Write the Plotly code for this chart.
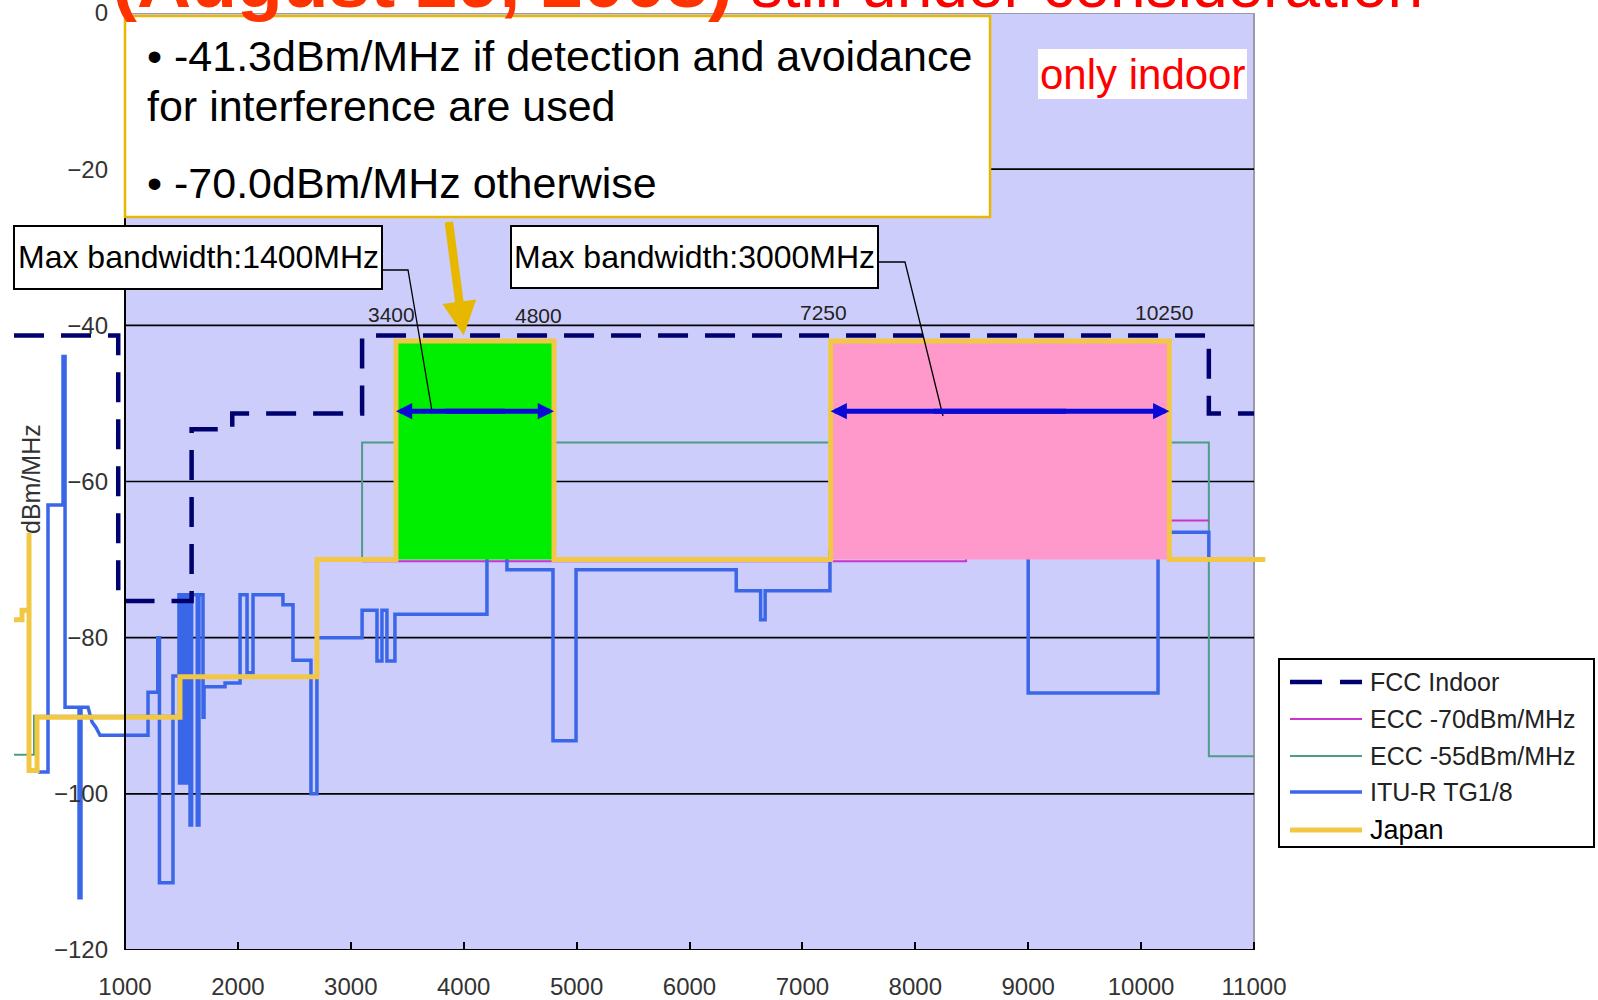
import plotly.graph_objects as go

# ---------------- data ----------------
FREQ_TICKS = [1000, 2000, 3000, 4000, 5000, 6000, 7000, 8000, 9000, 10000, 11000]
FREQ_TICK_LABELS = ["1000", "2000", "3000", "4000", "5000", "6000", "7000", "8000", "9000", "10000", "11000"]
LEVEL_TICKS = [0, -20, -40, -60, -80, -100, -120]
LEVEL_TICK_LABELS = ["0", "\u221220", "\u221240", "\u221260", "\u221280", "\u2212100", "\u2212120"]
GRID_LEVELS = [-20, -40, -60, -80, -100]
FREQ_MIN, FREQ_MAX = 1000, 11000
LEVEL_MIN, LEVEL_MAX = -120, 0

SERIES_NAMES = ["FCC Indoor", "ECC -70dBm/MHz", "ECC -55dBm/MHz", "ITU-R TG1/8", "Japan"]

FCC_FREQ = [17, 940, 940, 1590, 1590, 1950, 1950, 3100, 3100, 10600, 10600, 11000]
FCC_LEVEL = [-41.3, -41.3, -75.3, -75.3, -53.3, -53.3, -51.3, -51.3, -41.3, -41.3, -51.3, -51.3]

ECC70_FREQ = [3100, 8450, 8450, 10600]
ECC70_LEVEL = [-70.2, -70.2, -65, -65]

ECC55_FREQ = [17, 194, 194, 1487, 1487, 2700, 2700, 3100, 3100, 10600, 10600, 11000]
ECC55_LEVEL = [-95, -95, -90, -90, -85, -85, -70, -70, -55, -55, -95.2, -95.2]

ITU_FREQ = [229, 318, 318, 451, 451, 469, 469, 593, 593, 610, 610, 672, 708, 743, 779,
            1204, 1204, 1290, 1290, 1305, 1305, 1425, 1425, 1478, 1478, 1483, 1483, 1492, 1492,
            1500, 1500, 1510, 1510, 1520, 1520, 1530, 1530, 1540, 1540, 1556, 1556, 1576, 1576,
            1590, 1590, 1640, 1640, 1655, 1655, 1691, 1691, 1700, 1700, 1886, 1886, 2019, 2019,
            2081, 2081, 2134, 2134, 2399, 2399, 2488, 2488, 2647, 2647, 2700, 2700, 3100, 3100,
            3232, 3232, 3276, 3276, 3320, 3320, 3391, 3391, 4206, 4206, 4383, 4383, 4791, 4791,
            4995, 4995, 6414, 6414, 6630, 6630, 6670, 6670, 7244, 7244, 9000, 9000, 10150, 10150,
            10200, 10200, 10600, 10600]
ITU_LEVEL = [-97.2, -97.2, -63, -63, -44, -44, -88.9, -88.9, -113.3, -113.3, -88.9, -88.9, -90.8, -91.5, -92.5,
             -92.5, -87, -87, -80, -80, -111.4, -111.4, -84.9, -84.9, -74.5, -74.5, -98.6, -98.6, -74.5,
             -74.5, -98.6, -98.6, -74.5, -74.5, -98.6, -98.6, -74.5, -74.5, -98.6, -98.6, -74.5, -74.5, -104,
             -104, -74.5, -74.5, -104, -104, -74.5, -74.5, -90.2, -90.2, -86.3, -86.3, -85.8, -85.8, -74.5,
             -74.5, -84.5, -84.5, -74.5, -74.5, -75.8, -75.8, -82.9, -82.9, -100, -100, -80, -80, -76.5,
             -76.5, -83, -83, -76.5, -76.5, -83, -83, -77, -77, -69, -69, -71.3, -71.3, -93.2,
             -93.2, -71.3, -71.3, -74, -74, -77.7, -77.7, -74, -74, -69, -69, -87.1, -87.1, -69,
             -69, -66.5, -66.5, -70]

JAPAN_FREQ = [17, 88, 88, 150, 150, 150, 221, 221, 1487, 1487, 2700, 2700, 3400, 3400, 4800, 4800,
              7250, 7250, 10250, 10250, 11100]
JAPAN_LEVEL = [-77.7, -77.7, -76.5, -76.5, -66.6, -97, -97, -90.2, -90.2, -85, -85, -70, -70, -42, -42, -70,
               -70, -42, -42, -70, -70]

BAND_LOW = [3400, 7250]
BAND_HIGH = [4800, 10250]
BAND_TOP = -42
BAND_BOTTOM = -70
BAND_ARROW_LEVEL = -51
BAND_EDGE_LABELS = ["3400", "4800", "7250", "10250"]
BAND_WIDTH_TEXT = ["Max bandwidth:1400MHz", "Max bandwidth:3000MHz"]
DAA_FREQ, DAA_LEVEL = 4000, -41.3

NOTE_LINES = ["\u2022 -41.3dBm/MHz if detection and avoidance", "for interference are used",
              "\u2022 -70.0dBm/MHz otherwise"]
TITLE_BOLD = "(August 29, 2008)"
TITLE_REST = " still under consideration"
INDOOR_TEXT = "only indoor"
Y_TITLE = "dBm/MHz"

# ---------------- styles / layout geometry (pixels) ----------------
W, H = 1598, 1000
L, R, T, B = 10, 1280, 13, 950
AX0, AX1 = 125, 1254
K = (AX1 - AX0) / (FREQ_MAX - FREQ_MIN)
X_RANGE = [FREQ_MIN + (L - AX0) / K, FREQ_MIN + (R - AX0) / K]


def pxx(px):
    return (px - L) / (R - L)


def pxy(py):
    return (B - py) / (B - T)


FONT = "Liberation Sans, Arial, sans-serif"
C_FCC = "#00006E"
C_E70 = "#CC33CC"
C_E55 = "#4F9C86"
C_ITU = "#3A66E8"
C_JPN = "#F2C744"
C_BAND = ["#00EE00", "#FF99CC"]
C_LAV = "#CDCDFC"
C_ARROW = "#0A0AD8"
C_GOLD = "#E6B800"

STYLE = {
    "FCC Indoor": dict(color=C_FCC, width=4.5, dash="30px,17px"),
    "ECC -70dBm/MHz": dict(color=C_E70, width=2),
    "ECC -55dBm/MHz": dict(color=C_E55, width=2),
    "ITU-R TG1/8": dict(color=C_ITU, width=3.5),
    "Japan": dict(color=C_JPN, width=5),
}
DATA = {
    "FCC Indoor": (FCC_FREQ, FCC_LEVEL),
    "ECC -70dBm/MHz": (ECC70_FREQ, ECC70_LEVEL),
    "ECC -55dBm/MHz": (ECC55_FREQ, ECC55_LEVEL),
    "ITU-R TG1/8": (ITU_FREQ, ITU_LEVEL),
    "Japan": (JAPAN_FREQ, JAPAN_LEVEL),
}

fig = go.Figure()

for name in ["ECC -55dBm/MHz", "ECC -70dBm/MHz", "ITU-R TG1/8", "FCC Indoor"]:
    xs, ys = DATA[name]
    fig.add_trace(go.Scatter(x=xs, y=ys, mode="lines", name=name, line=STYLE[name],
                             showlegend=False, hoverinfo="skip"))

for lo, hi, col in zip(BAND_LOW, BAND_HIGH, C_BAND):
    fig.add_trace(go.Scatter(x=[lo, hi, hi, lo, lo],
                             y=[BAND_BOTTOM, BAND_BOTTOM, BAND_TOP, BAND_TOP, BAND_BOTTOM],
                             mode="lines", fill="toself", fillcolor=col, line=dict(width=0),
                             showlegend=False, hoverinfo="skip"))

xs, ys = DATA["Japan"]
fig.add_trace(go.Scatter(x=xs, y=ys, mode="lines", name="Japan", line=STYLE["Japan"],
                         showlegend=False, hoverinfo="skip"))

shapes = []
annos = []

# plot background & grid
shapes.append(dict(type="rect", xref="x", yref="y", x0=FREQ_MIN, x1=FREQ_MAX, y0=LEVEL_MIN, y1=LEVEL_MAX,
                   fillcolor=C_LAV, line=dict(color="#9A9AA8", width=2), layer="below"))
for g in GRID_LEVELS:
    shapes.append(dict(type="line", xref="x", yref="y", x0=FREQ_MIN, x1=FREQ_MAX, y0=g, y1=g,
                       line=dict(color="black", width=1.6), layer="below"))
shapes.append(dict(type="line", xref="x", yref="y", x0=FREQ_MIN, x1=FREQ_MIN, y0=LEVEL_MIN, y1=LEVEL_MAX,
                   line=dict(color="black", width=2), layer="above"))
shapes.append(dict(type="line", xref="x", yref="y", x0=FREQ_MIN, x1=FREQ_MAX, y0=LEVEL_MIN, y1=LEVEL_MIN,
                   line=dict(color="black", width=2), layer="above"))

# big note box
shapes.append(dict(type="rect", xref="paper", yref="paper", x0=pxx(125), x1=pxx(990), y0=pxy(217), y1=pxy(16),
                   fillcolor="white", line=dict(color=C_GOLD, width=2.5), layer="above"))
for txt, cy in zip(NOTE_LINES, [56, 106, 183]):
    annos.append(dict(text=txt, xref="paper", yref="paper", x=pxx(145), y=pxy(cy), xanchor="left",
                      yanchor="middle", showarrow=False, font=dict(family=FONT, size=43, color="black")))

# only indoor
shapes.append(dict(type="rect", xref="paper", yref="paper", x0=pxx(1038), x1=pxx(1247), y0=pxy(99), y1=pxy(49),
                   fillcolor="white", line=dict(width=0), layer="above"))
annos.append(dict(text=INDOOR_TEXT, xref="paper", yref="paper", x=pxx(1142.5), y=pxy(74), xanchor="center",
                  yanchor="middle", showarrow=False, font=dict(family=FONT, size=42, color="#FF0000")))

# max bandwidth boxes and leader lines
BOX_PX = [(14, 382, 226, 289), (511, 878, 226, 288)]
LEADERS = [[(382, 270), (408, 270), (432, 411)], [(878, 262), (905, 262), (943, 416)]]
for (x0, x1, y0, y1), txt, pts in zip(BOX_PX, BAND_WIDTH_TEXT, LEADERS):
    shapes.append(dict(type="rect", xref="paper", yref="paper", x0=pxx(x0), x1=pxx(x1), y0=pxy(y1), y1=pxy(y0),
                       fillcolor="white", line=dict(color="black", width=2), layer="above"))
    annos.append(dict(text=txt, xref="paper", yref="paper", x=pxx((x0 + x1) / 2), y=pxy((y0 + y1) / 2 - 0.5),
                      xanchor="center", yanchor="middle", showarrow=False,
                      font=dict(family=FONT, size=32, color="black")))
    path = "M" + " L".join(f"{pxx(a):.5f},{pxy(b):.5f}" for a, b in pts)
    shapes.append(dict(type="path", xref="paper", yref="paper", path=path,
                       line=dict(color="black", width=1.3), layer="above"))

# band double arrows (two overlapping single-headed arrows per band)
for lo, hi in zip(BAND_LOW, BAND_HIGH):
    span = hi - lo
    for end, tail in ((lo, hi - 0.3 * span), (hi, lo + 0.3 * span)):
        annos.append(dict(text="", x=end, y=BAND_ARROW_LEVEL, xref="x", yref="y", ax=tail, ay=BAND_ARROW_LEVEL,
                          axref="x", ayref="y", showarrow=True, arrowhead=2, arrowsize=0.65, arrowwidth=5,
                          arrowcolor=C_ARROW, standoff=0))

# band edge labels
for txt, (cx, cy) in zip(BAND_EDGE_LABELS, [(391, 314), (538, 315), (823, 312), (1164, 312)]):
    annos.append(dict(text=txt, xref="paper", yref="paper", x=pxx(cx), y=pxy(cy), xanchor="center",
                      yanchor="middle", showarrow=False, font=dict(family=FONT, size=21, color="#222")))

# gold arrow from note box
annos.append(dict(text="", x=DAA_FREQ, y=DAA_LEVEL, xref="x", yref="y", ax=-15, ay=-115, showarrow=True,
                  arrowhead=2, arrowsize=0.8, arrowwidth=8.5, arrowcolor=C_GOLD, standoff=0))

# title
annos.append(dict(text=f"<b><span style='font-size:75px;color:#FF3300'>{TITLE_BOLD}</span></b>"
                       f"<span style='font-size:64px;color:#FF0000'>{TITLE_REST}</span>",
                  xref="paper", yref="paper", x=pxx(110), y=pxy(25), xanchor="left", yanchor="bottom",
                  showarrow=False, font=dict(family=FONT, size=64, color="#FF0000")))

# y title
annos.append(dict(text=Y_TITLE, xref="paper", yref="paper", x=pxx(31), y=pxy(479), textangle=-90,
                  xanchor="center", yanchor="middle", showarrow=False,
                  font=dict(family=FONT, size=25, color="#333")))

# legend (manual)
shapes.append(dict(type="rect", xref="paper", yref="paper", x0=pxx(1279), x1=pxx(1594), y0=pxy(847), y1=pxy(659),
                   fillcolor="white", line=dict(color="black", width=2), layer="above"))
for name, cy in zip(SERIES_NAMES, [682, 719, 756, 792, 830]):
    st = dict(STYLE[name])
    if name == "FCC Indoor":
        st["dash"] = "32px,18px"
    shapes.append(dict(type="line", xref="paper", yref="paper", x0=pxx(1290), x1=pxx(1362), y0=pxy(cy), y1=pxy(cy),
                       line=st, layer="above"))
    annos.append(dict(text=name, xref="paper", yref="paper", x=pxx(1368), y=pxy(cy), xanchor="left",
                      yanchor="middle", showarrow=False,
                      font=dict(family=FONT, size=27 if name == "Japan" else 25,
                                color="black" if name == "Japan" else "#222")))

fig.update_layout(
    template="none",
    width=W, height=H, autosize=False,
    margin=dict(l=L, r=W - R, t=T, b=H - B, pad=0),
    paper_bgcolor="white", plot_bgcolor="white",
    showlegend=False,
    font=dict(family=FONT, size=24, color="#333"),
    shapes=shapes, annotations=annos,
    xaxis=dict(range=X_RANGE, tickvals=FREQ_TICKS, ticktext=FREQ_TICK_LABELS, showgrid=False, zeroline=False,
               showline=False, ticks="inside", ticklen=8, tickwidth=1.5, tickcolor="black",
               ticklabelstandoff=20, ticklabeloverflow="allow", automargin=False, fixedrange=True,
               tickfont=dict(family=FONT, size=24, color="#333")),
    yaxis=dict(range=[LEVEL_MIN, LEVEL_MAX], tickvals=LEVEL_TICKS, ticktext=LEVEL_TICK_LABELS, showgrid=False,
               zeroline=False, showline=False, ticks="", anchor="free", position=pxx(AX0),
               ticklabelstandoff=17, ticklabeloverflow="allow", automargin=False, fixedrange=True,
               tickfont=dict(family=FONT, size=24, color="#333")),
)

fig.write_html("out.html", config={"displayModeBar": False},
               post_script="document.body.style.margin='0px';document.body.style.overflow='hidden';")
